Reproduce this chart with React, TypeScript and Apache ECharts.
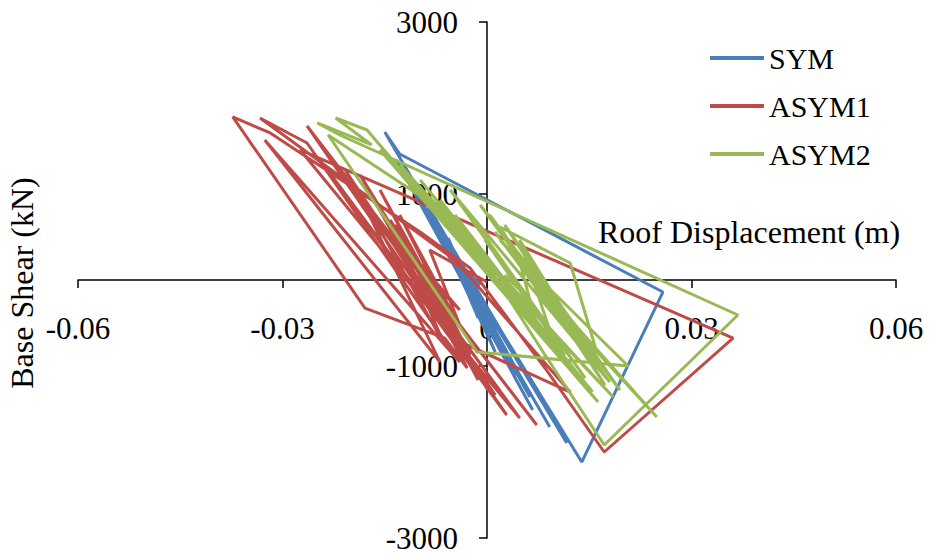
import React, { useEffect, useRef } from "react";
import * as echarts from "echarts";

// Roof displacement (m), base shear (kN)
const symX = [-0.001, -0.0059, 0, -0.0069, 0.0007, -0.0081, 0.0019, -0.0089, 0.0031, -0.0098, 0.0043, -0.0107, 0.0063, -0.0116, 0.0067, -0.0125, 0.0092, -0.0133, 0.0117, -0.015, -0.0128, 0.0258, 0.0139, -0.0084, 0.0056, -0.0073, 0.0026, -0.0062, 0.0013, -0.0051, 0.0001, -0.004, -0.001, -0.0054, -0.0013, -0.0066, -0.0004, -0.0075, 0.0004, -0.0087, 0.0012, -0.0057, -0.0018, -0.0047, -0.0025];
const symY = [-58, 349, -442, 488, -605, 640, -756, 791, -930, 930, -1105, 1047, -1361, 1163, -1512, 1279, -1710, 1396, -1896, 1721, 1465, -140, -2117, 756, -1221, 640, -814, 488, -582, 349, -349, 209, -174, 407, -442, 558, -558, 698, -698, 837, -837, 488, -233, 291, 0];

const asym1X = [0, -0.0084, -0.0037, -0.0128, -0.0029, -0.0157, -0.0016, -0.0208, 0.0012, -0.0245, 0.0029, -0.0264, 0.0073, -0.0222, 0.0048, -0.0274, 0.0361, 0.0172, 0.0085, -0.0025, -0.0098, -0.0318, -0.0373, -0.0179, -0.0062, -0.0029, -0.0186, -0.0035, 0.0122, -0.0047, -0.0333, -0.0264, -0.004, -0.0326, -0.0069, -0.0194, -0.0062, -0.0142, -0.0047, -0.0098, -0.004, -0.0128, -0.0032, -0.015, -0.0025, -0.0135, -0.0013, -0.0113, 0.0001, -0.0164, -0.0047, -0.0106, -0.0054, -0.0084];
const asym1Y = [-23, 349, -582, 756, -814, 1047, -1070, 1279, -1337, 1396, -1570, 1791, -1686, 1337, -1605, 1512, -675, -2000, -1023, 140, 558, 1710, 1896, -326, -675, -1023, 1221, -733, -1303, 233, 1884, 1593, -954, 1628, -954, 1105, -756, 698, -465, 116, -349, 465, -756, 756, -872, 640, -1163, 407, -1279, 930, -582, 233, -465, 0];

const asym2X = [0.0019, -0.0025, 0.007, -0.0047, 0.01, -0.0069, 0.0129, -0.0098, 0.0155, -0.0128, 0.0185, -0.0157, 0.0163, -0.0176, -0.0222, -0.0169, -0.0249, -0.0216, 0.0368, 0.0172, 0.0088, -0.004, -0.0233, -0.0015, 0.0207, 0.0019, 0.0249, 0.0078, 0.0019, 0.0122, 0.0161, -0.001, 0.018, -0.0054, 0.0144, -0.0025, 0.0114, -0.0003, 0.0092, 0.0048, 0.0166, 0.0026, 0.0195, 0.0004, 0.0151, 0.0041, 0.0173, 0.0063, 0.0129, 0.0012, 0.0107, 0.0048, 0.0063, 0.0026];
const asym2Y = [58, 523, -465, 756, -756, 930, -1047, 1163, -1303, 1337, -1361, 1512, -1419, 1744, 1884, 1570, 1826, 1686, -407, -1919, -907, 675, 1686, -837, -1000, 465, -1593, -116, 616, 198, -837, 872, -1186, 1047, -1140, 756, -872, 465, -582, 465, -1047, 640, -1279, 756, -930, 349, -1221, 174, -698, 558, -465, 209, -233, 58];

const seriesNames = ["SYM", "ASYM1", "ASYM2"];
const seriesColors = ["#4A7EBB", "#BE4B48", "#98B954"];
const xTicks = { min: -0.06, max: 0.06, interval: 0.03 };
const yTicks = { min: -3000, max: 3000, interval: 2000 };
const xTitle = "Roof Displacement (m)";
const yTitle = "Base Shear (kN)";

const FONT = '"Liberation Serif", "Times New Roman", serif';
const W = 930;
const H = 554;
const GRID = { left: 78, right: 34, top: 22, bottom: 16 };

function pairs(xs: number[], ys: number[]) {
  return xs.map((x, i) => [x, ys[i]]);
}

export default function App() {
  const ref = useRef<HTMLDivElement>(null);
  useEffect(() => {
    if (!ref.current) return;
    const chart = echarts.init(ref.current, undefined, { renderer: "svg" });
    const datasets = [pairs(symX, symY), pairs(asym1X, asym1Y), pairs(asym2X, asym2Y)];
    const gw = W - GRID.left - GRID.right;
    const gh = H - GRID.top - GRID.bottom;
    // place axis lines through zero (ranges are symmetric)
    const yAxisOffset = -(gw * (0 - xTicks.min)) / (xTicks.max - xTicks.min);
    const xAxisOffset = -(gh * (0 - yTicks.min)) / (yTicks.max - yTicks.min);
    chart.setOption({
      animation: false,
      backgroundColor: "#fff",
      grid: { ...GRID, containLabel: false, outerBoundsMode: "none" },
      xAxis: {
        type: "value",
        position: "bottom",
        offset: xAxisOffset,
        min: xTicks.min,
        max: xTicks.max,
        interval: xTicks.interval,
        axisLine: { onZero: false, lineStyle: { color: "#000", width: 1.5 } },
        axisTick: { show: true, inside: false, length: 8, lineStyle: { color: "#000", width: 1.5 } },
        axisLabel: {
          margin: 33,
          color: "#000",
          fontFamily: FONT,
          fontSize: 31,
          formatter: (v: number) => (Math.abs(v) < 1e-9 ? "0" : v.toFixed(2)),
        },
        splitLine: { show: false },
      },
      yAxis: {
        type: "value",
        position: "left",
        offset: yAxisOffset,
        min: yTicks.min,
        max: yTicks.max,
        interval: yTicks.interval,
        axisLine: { onZero: false, lineStyle: { color: "#000", width: 1.5 } },
        axisTick: { show: true, inside: false, length: 8, lineStyle: { color: "#000", width: 1.5 } },
        axisLabel: {
          margin: 29,
          color: "#000",
          fontFamily: FONT,
          fontSize: 31,
          formatter: (v: number) => String(Math.round(v)),
        },
        splitLine: { show: false },
      },
      legend: {
        orient: "vertical",
        left: 705,
        top: 38,
        icon: "rect",
        itemWidth: 54,
        itemHeight: 4,
        itemGap: 18,
        data: seriesNames,
        textStyle: { fontFamily: FONT, fontSize: 30, color: "#000" },
      },
      graphic: [
        {
          type: "text",
          left: 598,
          top: 216,
          style: { text: xTitle, font: `32px ${FONT}`, fill: "#000" },
        },
        {
          type: "text",
          x: 22,
          y: 283,
          rotation: Math.PI / 2,
          style: { text: yTitle, font: `32px ${FONT}`, fill: "#000", align: "center", verticalAlign: "middle" },
        },
      ],
      series: seriesNames.map((name, i) => ({
        name,
        type: "line",
        data: datasets[i],
        symbol: "none",
        showSymbol: false,
        lineStyle: { color: seriesColors[i], width: 3 },
        itemStyle: { color: seriesColors[i] },
        z: 2 + i,
      })),
    });
    return () => chart.dispose();
  }, []);
  return <div ref={ref} style={{ position: "absolute", left: 0, top: 0, width: W, height: H }} />;
}
